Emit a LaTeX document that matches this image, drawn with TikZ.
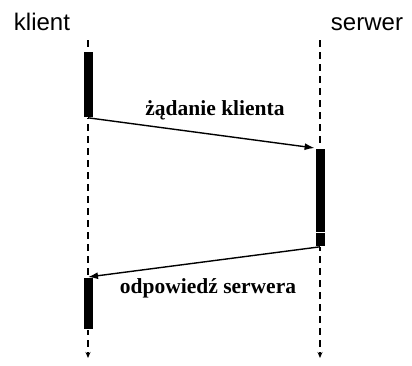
\documentclass[tikz,border=0pt]{standalone}
\usepackage{fontspec}
\setmainfont{Liberation Serif}
\setsansfont{Liberation Sans}
\usetikzlibrary{arrows.meta,positioning}
\tikzset{
  lifeline/.style={line width=2pt, dash pattern=on 7pt off 5pt, -{Stealth[length=6pt,width=5pt]}},
  bar/.style={fill=black, draw=white, line width=0.8pt, inner sep=0pt, minimum width=10pt, anchor=north},
  msg/.style={line width=1.4pt, -{Latex[length=10pt,width=7pt]}},
  msglabel/.style={font=\bfseries\fontsize{21.5}{24}\selectfont, anchor=base},
  role/.style={font=\sffamily\fontsize{24}{28}\selectfont, anchor=base}
}

\begin{document}
\begin{tikzpicture}[x=1pt,y=-1pt]
    \useasboundingbox (0,0) rectangle (412,365);

    % Draw roles.
    \node[role] (klient) at (42,30) {klient};
    \node[role] (serwer) at (367,30) {serwer};

    % Draw lifelines.
    \foreach \n/\x in {k/88,s/320} {
        \coordinate (\n top) at (\x,40);
        \coordinate (\n end) at (\x,358);
        \draw[lifeline] (\n top) -- (\n end);
    }

    % Draw activation bars.
    \node[bar, minimum height=66pt] (kbar1) at (88,51) {};
    \node[bar, minimum height=52pt] (kbar2) at (88,277) {};
    \node[bar, minimum height=84pt] (sbar1) at (320,148) {};
    \node[bar, minimum height=14pt] (sbar2) at (320,232) {};

    % Draw messages.
    \draw[msg] (kbar1.south) -- (sbar1.north west);
    \node[msglabel] (zadanie) at (215,115) {żądanie klienta};
    \draw[msg] (sbar2.south) -- (kbar2.north);
    \node[msglabel] (odpowiedz) at (208,293) {odpowiedź serwera};
\end{tikzpicture}
\end{document}
